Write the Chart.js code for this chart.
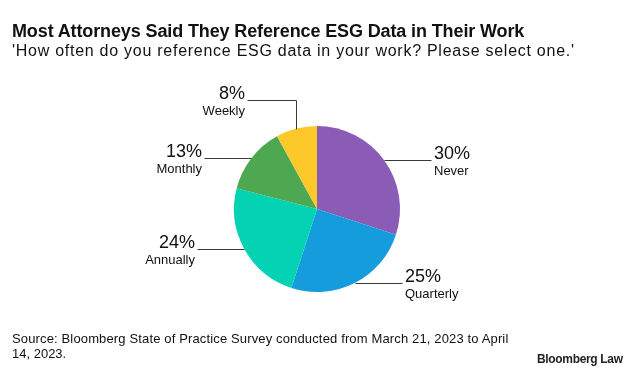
<!DOCTYPE html>
<html><head><meta charset="utf-8">
<script src="https://cdn.jsdelivr.net/npm/chart.js@4"></script>
<style>
html,body{margin:0;padding:0;background:#fff;}
#wrap{position:relative;width:633px;height:372px;overflow:hidden;background:#fff;}
canvas{position:absolute;left:0;top:0;}
.t{position:absolute;white-space:nowrap;color:#111;font-family:"Liberation Sans",Arial,sans-serif;line-height:1;}
</style></head><body>
<div id="wrap">
<canvas id="c" width="633" height="372"></canvas>
<div class="t" id="title" style="left:12px;top:22px;font-size:18px;font-weight:bold;">Most Attorneys Said They Reference ESG Data in Their Work</div>
<div class="t" id="sub" style="left:12px;top:42.5px;font-size:16px;">'How often do you reference ESG data in your work? Please select one.'</div>
<div class="t" id="src1" style="left:12px;top:331.7px;font-size:13px;">Source: Bloomberg State of Practice Survey conducted from March 21, 2023 to April</div>
<div class="t" id="src2" style="left:12px;top:347px;font-size:13px;">14, 2023.</div>
<div class="t" id="logo" style="left:537px;top:352.5px;font-size:12px;font-weight:bold;color:#222;">Bloomberg Law</div>
</div>
<script>
// ---- data ----
const categories = ['Never', 'Quarterly', 'Annually', 'Monthly', 'Weekly'];
const values = [30, 25, 24, 13, 8];
const pctLabels = values.map(v => v + '%');
const colors = ['#8b5cb5', '#149cdc', '#03d3b3', '#4da851', '#fdc82a'];

// ---- text fitting ----
function fit(id, target) {
  const el = document.getElementById(id);
  const cs = getComputedStyle(el);
  const ctx = document.createElement('canvas').getContext('2d');
  ctx.font = cs.fontWeight + ' ' + cs.fontSize + ' ' + cs.fontFamily;
  const txt = el.textContent;
  const w = ctx.measureText(txt).width;
  el.style.letterSpacing = ((target - w) / (txt.length - 1)) + 'px';
}
fit('title', 513);
fit('sub', 562);
fit('src1', 497);
fit('logo', 86);

const FONT = '"Liberation Sans", Arial, sans-serif';
const leaderPlugin = {
  id: 'leaders',
  afterDatasetsDraw(chart) {
    const ctx = chart.ctx;
    const meta = chart.getDatasetMeta(0);
    meta.data.forEach((arc, i) => {
      const p = arc.getProps(['x', 'y', 'startAngle', 'endAngle', 'outerRadius'], true);
      const mid = (p.startAngle + p.endAngle) / 2;
      const px = Math.round(p.x + Math.cos(mid) * p.outerRadius) + 0.5;
      const py = Math.round(p.y + Math.sin(mid) * p.outerRadius) + 0.5;
      const right = Math.cos(mid) >= 0;
      let ex, ey;
      ctx.save();
      ctx.strokeStyle = '#3a3a3a';
      ctx.lineWidth = 1;
      ctx.beginPath();
      ctx.moveTo(px, py);
      if (Math.sin(mid) < -0.9) {
        ey = py - 29;
        ctx.lineTo(px, ey);
        ex = px + (right ? 49 : -49);
        ctx.lineTo(ex, ey);
      } else {
        ex = px + (right ? 47 : -47);
        ey = py;
        ctx.lineTo(ex, ey);
      }
      ctx.stroke();
      ctx.fillStyle = '#111';
      ctx.textAlign = right ? 'left' : 'right';
      ctx.textBaseline = 'alphabetic';
      const tx = ex + (right ? 2.5 : -2.5);
      ctx.font = '18px ' + FONT;
      ctx.fillText(pctLabels[i], tx, ey - 2);
      ctx.font = '13px ' + FONT;
      ctx.fillText(categories[i], tx, ey + 14);
      ctx.restore();
    });
  }
};

new Chart(document.getElementById('c'), {
  type: 'pie',
  data: {
    labels: categories,
    datasets: [{
      data: values,
      backgroundColor: colors,
      borderWidth: 0,
      hoverOffset: 0,
      offset: 0
    }]
  },
  options: {
    responsive: false,
    animation: false,
    events: [],
    devicePixelRatio: 1,
    layout: { padding: { top: 126, bottom: 80, left: 1, right: 0 } },
    plugins: {
      legend: { display: false },
      tooltip: { enabled: false },
      title: { display: false }
    }
  },
  plugins: [leaderPlugin]
});
</script>
</body></html>
